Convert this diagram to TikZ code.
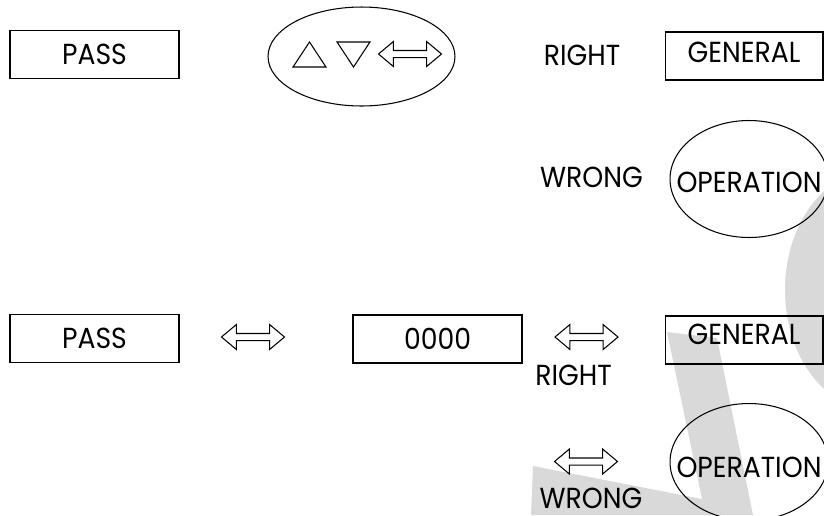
\documentclass[tikz,border=0pt]{standalone}
\usepackage{fontspec}
\setmainfont{Poppins}[FakeStretch=0.92]
\usetikzlibrary{positioning,shapes.geometric,shapes.arrows}

\begin{document}
\begin{tikzpicture}[%
  x=0.02cm,
  y=-0.02cm,
  line width=0.6pt,
  font=\fontsize{16.5}{18}\selectfont,
  panel/.style={
    draw,
    rectangle,
    minimum width=3.38cm,
    minimum height=0.96cm,
    inner sep=0pt},
  oval/.style={
    draw,
    ellipse,
    inner sep=0pt},
  tag/.style={inner sep=1pt},
  dbl/.style={
    draw,
    double arrow,
    inner sep=0.06cm,
    minimum height=1.26cm,
    double arrow head extend=0.18cm,
    double arrow tip angle=80},
  wmark/.style={fill=gray!30, draw=none}
  ]
  \useasboundingbox (0,0) rectangle (824,515);
  %% Background mark
  \fill[wmark] (875,290) ellipse [x radius=90, y radius=120];
  \fill[wmark] (531,515) -- (533,466) -- (702,499) -- (667,332)
    -- (717,338) -- (753,515) -- cycle;
  %% Upper row
  \node[panel] (pass1) at (94.5,54.5) {PASS};
  \node[oval, minimum width=3.74cm, minimum height=1.98cm] (keys) at (361.5,56.5) {};
  \draw (293,67) -- (326,67) -- (309.5,42) -- cycle;
  \draw (337,42) -- (370,42) -- (353.5,67) -- cycle;
  \node[dbl] (move) at (410,54) {};
  \node[tag] (right1) at (582,55.5) {RIGHT};
  \node[panel, minimum width=3.16cm, text depth=0.16cm] (gen1) at (744,56) {GENERAL};
  \node[tag] (wrong1) at (591.5,177) {WRONG};
  \node[oval, minimum width=3.16cm, minimum height=2.34cm] (op1) at (749,179) {};
  \node[tag] (op1txt) at (749,182) {OPERATION};
  %% Lower row
  \node[panel] (pass2) at (94.5,338.5) {PASS};
  \node[dbl] (a1) at (253,337) {};
  \node[panel] (code) at (437.5,339) {0000};
  \node[dbl] (a2) at (586.5,337) {};
  \node[tag] (right2) at (573.5,375) {RIGHT};
  \node[panel, minimum width=3.16cm, text depth=0.22cm] (gen2) at (744,340) {GENERAL};
  \node[dbl] (a3) at (586,461.5) {};
  \node[tag] (wrong2) at (591,498) {WRONG};
  \node[oval, minimum width=3.16cm, minimum height=2.34cm] (op2) at (749,462) {};
  \node[tag] (op2txt) at (749,467) {OPERATION};
\end{tikzpicture}
\end{document}
